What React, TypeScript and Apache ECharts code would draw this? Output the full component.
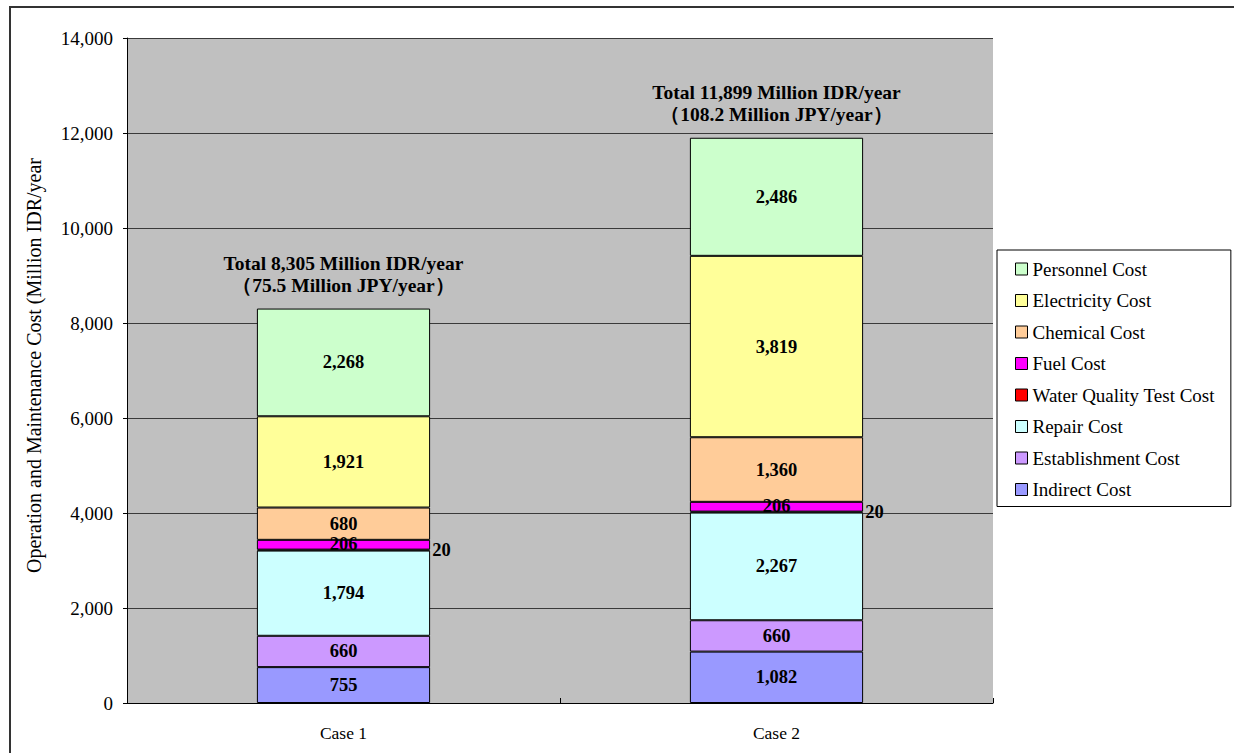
import React, { useEffect, useRef } from "react";
import * as echarts from "echarts";

const categories = ["Case 1", "Case 2"];
const seriesNames = [
  "Indirect Cost",
  "Establishment Cost",
  "Repair Cost",
  "Water Quality Test Cost",
  "Fuel Cost",
  "Chemical Cost",
  "Electricity Cost",
  "Personnel Cost",
];
const indirectCost = [755, 1082];
const establishmentCost = [660, 660];
const repairCost = [1794, 2267];
const waterQualityTestCost = [20, 20];
const fuelCost = [206, 206];
const chemicalCost = [680, 1360];
const electricityCost = [1921, 3819];
const personnelCost = [2268, 2486];
const totalIDR = ["8,305", "11,899"];
const totalJPY = ["75.5", "108.2"];
const yTicks = { min: 0, max: 14000, interval: 2000 };

const seriesValues = [
  indirectCost,
  establishmentCost,
  repairCost,
  waterQualityTestCost,
  fuelCost,
  chemicalCost,
  electricityCost,
  personnelCost,
];
const colors = [
  "#9999FF",
  "#CC99FF",
  "#CCFFFF",
  "#FF0000",
  "#FF00FF",
  "#FFCC99",
  "#FFFF99",
  "#CCFFCC",
];

const FONT = "'Liberation Serif', 'Times New Roman', serif";

export default function App() {
  const ref = useRef<HTMLDivElement>(null);
  useEffect(() => {
    if (!ref.current) return;
    const chart = echarts.init(ref.current, null, { renderer: "svg" });
    const fmt = (v: number) => v.toLocaleString("en-US");
    const series: any[] = seriesNames.map((name, i) => {
      const s: any = {
        name,
        type: "bar",
        stack: "total",
        barWidth: "40%",
        data: seriesValues[i],
        itemStyle: { color: colors[i], borderColor: "#000", borderWidth: 1 },
        label: {
          show: true,
          position: "inside",
          color: "#000",
          fontFamily: FONT,
          fontWeight: "bold",
          fontSize: 18.5,
          formatter: (p: any) => fmt(p.value),
        },
      };
      if (name === "Water Quality Test Cost") {
        s.label.position = "right";
        s.label.distance = 2;
      }
      if (name === "Fuel Cost") {
        s.label.offset = [0, -1];
      }
      return s;
    });
    // total labels on top of the stack
    series.push({
      name: "__total",
      type: "bar",
      stack: "total",
      barWidth: "40%",
      data: categories.map(() => 0),
      itemStyle: { color: "transparent", borderWidth: 0 },
      silent: true,
      label: {
        show: true,
        position: "top",
        distance: 12,
        color: "#000",
        fontFamily: FONT,
        fontWeight: "bold",
        fontSize: 19.5,
        lineHeight: 22,
        align: "center",
        formatter: (p: any) =>
          `Total ${totalIDR[p.dataIndex]} Million IDR/year\n（${totalJPY[p.dataIndex]} Million JPY/year）`,
      },
    });

    chart.setOption({
      animation: false,
      backgroundColor: "#fff",
      textStyle: { fontFamily: FONT },
      graphic: [
        {
          type: "rect",
          shape: { x: 10, y: 7, width: 1260, height: 800 },
          style: { fill: "none", stroke: "#333", lineWidth: 2 },
          silent: true,
          z: 100,
        },
      ],
      grid: { left: 127, top: 38, width: 866, height: 665, show: true, backgroundColor: "#C0C0C0", borderWidth: 0 },
      legend: {
        orient: "vertical",
        left: 997,
        top: 250,
        width: 235,
        data: [...seriesNames].reverse(),
        backgroundColor: "#fff",
        borderColor: "#000",
        borderWidth: 1,
        borderRadius: 0,
        padding: [9, 16, 7, 18],
        itemGap: 11.5,
        itemWidth: 12,
        itemHeight: 12,
        icon: "rect",
        itemStyle: { borderColor: "#000", borderWidth: 1 },
        textStyle: { fontFamily: FONT, fontSize: 19, color: "#000", lineHeight: 20 },
      },
      xAxis: {
        type: "category",
        data: categories,
        axisLine: { show: true, lineStyle: { color: "#000", width: 1 } },
        axisTick: { show: true, inside: true, length: 5, lineStyle: { color: "#000" } },
        axisLabel: { fontFamily: FONT, fontSize: 17.5, color: "#000", margin: 21 },
      },
      yAxis: {
        type: "value",
        min: yTicks.min,
        max: yTicks.max,
        interval: yTicks.interval,
        name: "Operation and Maintenance Cost (Million IDR/year",
        nameLocation: "middle",
        nameGap: 83,
        nameRotate: 90,
        nameTextStyle: { fontFamily: FONT, fontSize: 20, color: "#000", padding: [0, 0, 0, 10] },
        axisLine: { show: true, lineStyle: { color: "#000", width: 1 } },
        axisTick: { show: true, length: 4, lineStyle: { color: "#000" } },
        splitLine: { show: true, lineStyle: { color: "#3a3a3a", width: 1 } },
        axisLabel: {
          fontFamily: FONT,
          fontSize: 19,
          color: "#000",
          margin: 14,
          formatter: (v: number) => v.toLocaleString("en-US"),
        },
      },
      series,
    });
    return () => chart.dispose();
  }, []);
  return (
    <div
      ref={ref}
      style={{ position: "absolute", left: 0, top: 0, width: 1234, height: 753, background: "#fff" }}
    />
  );
}
